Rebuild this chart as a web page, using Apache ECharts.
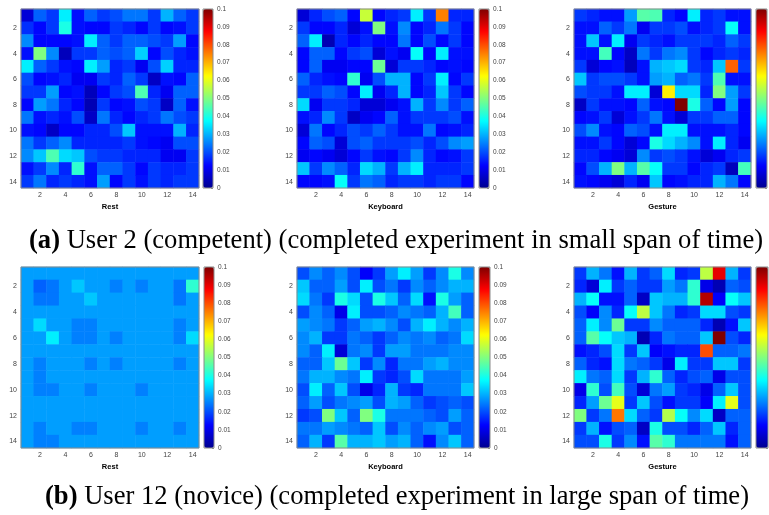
<!DOCTYPE html>
<html>
<head>
    <meta charset="utf-8">
    <title>User heatmaps</title>
    <script src="https://cdn.jsdelivr.net/npm/echarts@6.0.0/dist/echarts.min.js"></script>
    <style>
        body { margin: 0; background: #fff; }
        #chart { width: 769px; height: 515px; }
    </style>
</head>
<body>
    <div id="chart"></div>
    <script>
        // cell labels (1..14) and which of them get a tick label
        var cells = ['1', '2', '3', '4', '5', '6', '7', '8', '9', '10', '11', '12', '13', '14'];
        var panelNames = ['Rest', 'Keyboard', 'Gesture', 'Rest', 'Keyboard', 'Gesture'];
        var captionA = ['(a)', 'User 2 (competent) (completed experiment in small span of time)'];
        var captionB = ['(b)', 'User 12 (novice) (completed experiment in large span of time)'];
        var colorbarMax = 0.1;

        // user 2 - rest
        var restU2 = [
            [0.008, 0.022, 0.018, 0.036, 0.014, 0.022, 0.018, 0.020, 0.024, 0.024, 0.018, 0.030, 0.022, 0.018],
            [0.017, 0.013, 0.018, 0.040, 0.014, 0.013, 0.013, 0.018, 0.016, 0.013, 0.018, 0.013, 0.014, 0.018],
            [0.026, 0.013, 0.013, 0.013, 0.014, 0.036, 0.022, 0.018, 0.022, 0.022, 0.020, 0.018, 0.028, 0.013],
            [0.014, 0.050, 0.026, 0.005, 0.018, 0.018, 0.022, 0.020, 0.022, 0.033, 0.013, 0.020, 0.016, 0.014],
            [0.036, 0.022, 0.018, 0.014, 0.013, 0.036, 0.028, 0.016, 0.018, 0.011, 0.020, 0.033, 0.016, 0.016],
            [0.020, 0.013, 0.014, 0.016, 0.011, 0.011, 0.018, 0.016, 0.022, 0.018, 0.006, 0.014, 0.013, 0.022],
            [0.018, 0.018, 0.028, 0.013, 0.014, 0.005, 0.013, 0.018, 0.020, 0.045, 0.016, 0.011, 0.022, 0.022],
            [0.013, 0.028, 0.024, 0.016, 0.013, 0.004, 0.018, 0.013, 0.014, 0.020, 0.018, 0.006, 0.022, 0.014],
            [0.024, 0.014, 0.016, 0.014, 0.020, 0.006, 0.024, 0.016, 0.013, 0.016, 0.018, 0.024, 0.020, 0.018],
            [0.014, 0.013, 0.006, 0.013, 0.013, 0.016, 0.016, 0.020, 0.032, 0.014, 0.014, 0.014, 0.030, 0.016],
            [0.024, 0.018, 0.022, 0.026, 0.016, 0.016, 0.016, 0.016, 0.018, 0.014, 0.013, 0.011, 0.020, 0.020],
            [0.026, 0.032, 0.045, 0.034, 0.032, 0.020, 0.018, 0.018, 0.016, 0.016, 0.016, 0.011, 0.011, 0.018],
            [0.014, 0.018, 0.026, 0.016, 0.042, 0.014, 0.022, 0.022, 0.018, 0.013, 0.018, 0.016, 0.016, 0.018],
            [0.018, 0.024, 0.016, 0.018, 0.016, 0.014, 0.028, 0.013, 0.018, 0.014, 0.018, 0.016, 0.018, 0.018]
        ];

        // user 2 - keyboard
        var keyboardU2 = [
            [0.008, 0.016, 0.020, 0.022, 0.013, 0.057, 0.013, 0.016, 0.018, 0.036, 0.018, 0.075, 0.016, 0.016],
            [0.018, 0.013, 0.013, 0.016, 0.008, 0.014, 0.050, 0.014, 0.026, 0.013, 0.016, 0.024, 0.018, 0.013],
            [0.022, 0.036, 0.004, 0.016, 0.013, 0.016, 0.013, 0.013, 0.024, 0.013, 0.020, 0.013, 0.018, 0.013],
            [0.013, 0.022, 0.022, 0.013, 0.018, 0.020, 0.008, 0.014, 0.011, 0.038, 0.013, 0.036, 0.014, 0.014],
            [0.013, 0.022, 0.011, 0.011, 0.013, 0.013, 0.048, 0.008, 0.018, 0.018, 0.016, 0.013, 0.014, 0.013],
            [0.022, 0.016, 0.014, 0.013, 0.042, 0.011, 0.020, 0.030, 0.030, 0.013, 0.018, 0.036, 0.013, 0.018],
            [0.018, 0.018, 0.022, 0.020, 0.013, 0.036, 0.011, 0.016, 0.030, 0.013, 0.016, 0.032, 0.018, 0.013],
            [0.034, 0.011, 0.018, 0.018, 0.016, 0.008, 0.008, 0.011, 0.014, 0.030, 0.018, 0.026, 0.018, 0.022],
            [0.014, 0.016, 0.026, 0.018, 0.006, 0.011, 0.013, 0.022, 0.014, 0.018, 0.018, 0.018, 0.020, 0.014],
            [0.008, 0.024, 0.013, 0.016, 0.020, 0.018, 0.022, 0.018, 0.014, 0.014, 0.024, 0.013, 0.014, 0.016],
            [0.013, 0.022, 0.020, 0.008, 0.020, 0.022, 0.018, 0.018, 0.018, 0.020, 0.016, 0.020, 0.026, 0.028],
            [0.011, 0.013, 0.011, 0.008, 0.013, 0.018, 0.014, 0.013, 0.018, 0.026, 0.016, 0.013, 0.014, 0.018],
            [0.032, 0.018, 0.026, 0.022, 0.016, 0.034, 0.030, 0.018, 0.030, 0.036, 0.016, 0.016, 0.016, 0.018],
            [0.013, 0.013, 0.014, 0.038, 0.018, 0.024, 0.022, 0.016, 0.018, 0.018, 0.016, 0.018, 0.018, 0.013]
        ];

        // user 2 - gesture
        var gestureU2 = [
            [0.018, 0.016, 0.014, 0.014, 0.028, 0.046, 0.045, 0.016, 0.013, 0.036, 0.016, 0.018, 0.014, 0.014],
            [0.014, 0.014, 0.022, 0.018, 0.024, 0.011, 0.018, 0.018, 0.020, 0.014, 0.016, 0.018, 0.038, 0.014],
            [0.014, 0.032, 0.014, 0.036, 0.011, 0.018, 0.016, 0.014, 0.018, 0.018, 0.018, 0.016, 0.022, 0.018],
            [0.014, 0.014, 0.044, 0.013, 0.006, 0.024, 0.018, 0.024, 0.026, 0.018, 0.013, 0.016, 0.018, 0.016],
            [0.018, 0.008, 0.013, 0.014, 0.005, 0.014, 0.030, 0.032, 0.034, 0.018, 0.016, 0.032, 0.078, 0.018],
            [0.032, 0.018, 0.020, 0.020, 0.018, 0.014, 0.028, 0.030, 0.022, 0.024, 0.018, 0.045, 0.014, 0.014],
            [0.020, 0.018, 0.018, 0.014, 0.036, 0.036, 0.008, 0.064, 0.034, 0.034, 0.016, 0.050, 0.028, 0.018],
            [0.006, 0.018, 0.014, 0.014, 0.013, 0.022, 0.014, 0.013, 0.100, 0.040, 0.022, 0.013, 0.028, 0.013],
            [0.013, 0.014, 0.018, 0.008, 0.014, 0.018, 0.024, 0.014, 0.008, 0.018, 0.018, 0.022, 0.022, 0.013],
            [0.020, 0.026, 0.014, 0.013, 0.022, 0.020, 0.014, 0.036, 0.036, 0.014, 0.014, 0.014, 0.016, 0.013],
            [0.014, 0.014, 0.018, 0.013, 0.008, 0.013, 0.040, 0.034, 0.030, 0.026, 0.014, 0.036, 0.016, 0.011],
            [0.016, 0.016, 0.013, 0.011, 0.008, 0.026, 0.018, 0.020, 0.018, 0.014, 0.008, 0.011, 0.016, 0.018],
            [0.013, 0.020, 0.030, 0.050, 0.030, 0.046, 0.038, 0.018, 0.018, 0.013, 0.016, 0.018, 0.005, 0.044],
            [0.014, 0.013, 0.011, 0.008, 0.016, 0.011, 0.032, 0.013, 0.014, 0.016, 0.016, 0.030, 0.024, 0.013]
        ];

        // user 12 - rest
        var restU12 = [
            [0.028, 0.028, 0.028, 0.028, 0.028, 0.028, 0.028, 0.028, 0.028, 0.028, 0.028, 0.028, 0.028, 0.028],
            [0.028, 0.022, 0.024, 0.028, 0.032, 0.028, 0.028, 0.025, 0.028, 0.025, 0.028, 0.028, 0.024, 0.042],
            [0.028, 0.024, 0.024, 0.028, 0.028, 0.032, 0.028, 0.028, 0.028, 0.028, 0.028, 0.028, 0.024, 0.028],
            [0.028, 0.028, 0.028, 0.028, 0.028, 0.028, 0.028, 0.028, 0.028, 0.028, 0.028, 0.028, 0.028, 0.028],
            [0.028, 0.034, 0.028, 0.028, 0.025, 0.025, 0.028, 0.028, 0.028, 0.028, 0.028, 0.028, 0.025, 0.028],
            [0.028, 0.028, 0.036, 0.028, 0.025, 0.025, 0.028, 0.025, 0.028, 0.028, 0.028, 0.028, 0.025, 0.034],
            [0.028, 0.028, 0.028, 0.028, 0.028, 0.028, 0.028, 0.028, 0.028, 0.028, 0.028, 0.028, 0.028, 0.028],
            [0.028, 0.025, 0.028, 0.028, 0.028, 0.025, 0.028, 0.025, 0.028, 0.028, 0.028, 0.028, 0.025, 0.028],
            [0.028, 0.025, 0.028, 0.028, 0.028, 0.028, 0.028, 0.028, 0.028, 0.028, 0.028, 0.028, 0.028, 0.028],
            [0.028, 0.025, 0.025, 0.028, 0.028, 0.025, 0.028, 0.028, 0.028, 0.025, 0.028, 0.028, 0.028, 0.028],
            [0.028, 0.028, 0.028, 0.028, 0.028, 0.028, 0.028, 0.028, 0.028, 0.028, 0.028, 0.028, 0.028, 0.028],
            [0.028, 0.028, 0.028, 0.028, 0.028, 0.028, 0.028, 0.028, 0.028, 0.028, 0.028, 0.028, 0.028, 0.028],
            [0.028, 0.025, 0.028, 0.028, 0.025, 0.025, 0.028, 0.028, 0.028, 0.025, 0.028, 0.028, 0.025, 0.028],
            [0.028, 0.025, 0.025, 0.028, 0.028, 0.028, 0.028, 0.028, 0.028, 0.028, 0.028, 0.028, 0.028, 0.028]
        ];

        // user 12 - keyboard
        var keyboardU12 = [
            [0.020, 0.026, 0.022, 0.026, 0.020, 0.012, 0.018, 0.028, 0.036, 0.028, 0.018, 0.026, 0.040, 0.026],
            [0.032, 0.022, 0.022, 0.028, 0.020, 0.036, 0.020, 0.024, 0.018, 0.026, 0.022, 0.026, 0.030, 0.030],
            [0.034, 0.024, 0.018, 0.040, 0.034, 0.020, 0.040, 0.032, 0.022, 0.034, 0.014, 0.040, 0.028, 0.022],
            [0.020, 0.026, 0.022, 0.010, 0.036, 0.020, 0.020, 0.022, 0.026, 0.024, 0.022, 0.030, 0.044, 0.022],
            [0.028, 0.026, 0.024, 0.018, 0.022, 0.028, 0.030, 0.026, 0.020, 0.030, 0.036, 0.030, 0.026, 0.030],
            [0.026, 0.030, 0.018, 0.018, 0.024, 0.022, 0.018, 0.022, 0.026, 0.024, 0.026, 0.022, 0.024, 0.034],
            [0.026, 0.022, 0.036, 0.008, 0.024, 0.026, 0.018, 0.028, 0.028, 0.024, 0.024, 0.024, 0.026, 0.026],
            [0.022, 0.022, 0.032, 0.048, 0.032, 0.018, 0.026, 0.016, 0.024, 0.024, 0.028, 0.030, 0.026, 0.026],
            [0.024, 0.030, 0.030, 0.026, 0.024, 0.036, 0.018, 0.016, 0.020, 0.034, 0.024, 0.024, 0.024, 0.028],
            [0.020, 0.036, 0.022, 0.032, 0.020, 0.010, 0.016, 0.030, 0.018, 0.016, 0.024, 0.024, 0.024, 0.032],
            [0.022, 0.028, 0.020, 0.024, 0.026, 0.028, 0.020, 0.030, 0.028, 0.022, 0.018, 0.020, 0.022, 0.020],
            [0.018, 0.020, 0.050, 0.032, 0.022, 0.050, 0.040, 0.024, 0.024, 0.024, 0.022, 0.020, 0.028, 0.022],
            [0.024, 0.024, 0.028, 0.026, 0.024, 0.022, 0.032, 0.020, 0.026, 0.022, 0.026, 0.028, 0.020, 0.022],
            [0.022, 0.030, 0.018, 0.046, 0.030, 0.030, 0.032, 0.028, 0.030, 0.022, 0.014, 0.026, 0.032, 0.022]
        ];

        // user 12 - gesture
        var gestureU12 = [
            [0.018, 0.030, 0.024, 0.014, 0.030, 0.018, 0.022, 0.034, 0.016, 0.018, 0.056, 0.090, 0.030, 0.018],
            [0.016, 0.008, 0.036, 0.018, 0.022, 0.018, 0.018, 0.028, 0.024, 0.042, 0.010, 0.004, 0.022, 0.020],
            [0.030, 0.038, 0.014, 0.014, 0.022, 0.006, 0.032, 0.030, 0.030, 0.042, 0.095, 0.012, 0.038, 0.032],
            [0.020, 0.012, 0.026, 0.016, 0.038, 0.056, 0.032, 0.024, 0.016, 0.018, 0.034, 0.034, 0.020, 0.018],
            [0.022, 0.036, 0.026, 0.048, 0.018, 0.018, 0.026, 0.022, 0.022, 0.022, 0.016, 0.004, 0.014, 0.032],
            [0.022, 0.046, 0.038, 0.032, 0.030, 0.004, 0.016, 0.024, 0.022, 0.022, 0.032, 0.100, 0.020, 0.016],
            [0.014, 0.016, 0.020, 0.034, 0.018, 0.032, 0.012, 0.014, 0.016, 0.016, 0.080, 0.022, 0.022, 0.024],
            [0.022, 0.016, 0.014, 0.034, 0.024, 0.022, 0.018, 0.010, 0.036, 0.018, 0.018, 0.032, 0.032, 0.018],
            [0.036, 0.024, 0.022, 0.034, 0.018, 0.030, 0.042, 0.022, 0.016, 0.020, 0.022, 0.010, 0.020, 0.020],
            [0.010, 0.042, 0.020, 0.044, 0.020, 0.008, 0.024, 0.028, 0.018, 0.016, 0.010, 0.022, 0.032, 0.020],
            [0.016, 0.028, 0.048, 0.060, 0.018, 0.032, 0.020, 0.014, 0.018, 0.018, 0.012, 0.036, 0.060, 0.020],
            [0.050, 0.018, 0.024, 0.076, 0.034, 0.022, 0.018, 0.055, 0.038, 0.026, 0.034, 0.006, 0.022, 0.022],
            [0.018, 0.030, 0.014, 0.020, 0.022, 0.006, 0.040, 0.020, 0.020, 0.016, 0.022, 0.032, 0.016, 0.022],
            [0.020, 0.020, 0.040, 0.018, 0.026, 0.014, 0.046, 0.042, 0.024, 0.024, 0.024, 0.024, 0.014, 0.022]
        ];

        var matrices = [restU2, keyboardU2, gestureU2, restU12, keyboardU12, gestureU12];

        // jet colormap
        var jet = ['#000090', '#0000ff', '#0080ff', '#00ffff', '#80ff80', '#ffff00', '#ff8000', '#ff0000', '#800000'];

        // layout of the six panels: [left, top, width, height, colorbarLeft, colorbarWidth]
        var boxes = [
            [21, 9, 178, 179, 203, 10],
            [297, 9, 177, 179, 479, 10],
            [574, 9, 177, 179, 756, 11],
            [21, 267, 178, 181, 204, 10],
            [297, 267, 177, 181, 479, 11],
            [574, 267, 177, 181, 756, 12]
        ];

        var chart = echarts.init(document.getElementById('chart'), null, { renderer: 'canvas' });

        function even(idx) { return idx % 2 === 1; }

        var grid = [], xAxis = [], yAxis = [], series = [], visualMap = [];
        boxes.forEach(function (b, i) {
            // heatmap grid
            grid.push({ left: b[0], top: b[1], width: b[2], height: b[3], show: true, borderColor: '#8a8a8a', borderWidth: 1, backgroundColor: 'transparent', z: 5 });
            // colorbar grid
            grid.push({ left: b[4], top: b[1], width: b[5], height: b[3], show: true, borderColor: '#8a8a8a', borderWidth: 1, backgroundColor: 'transparent', z: 5 });

            var lab = { interval: even, fontSize: 7, color: '#444', margin: 4, fontFamily: 'Liberation Sans' };
            var tick = { show: true, inside: true, interval: even, alignWithLabel: true, length: 2, lineStyle: { color: '#777', width: 0.8 } };
            xAxis.push({
                type: 'category', gridIndex: 2 * i, data: cells, axisLabel: lab, axisTick: tick,
                axisLine: { show: false }, splitLine: { show: false },
                name: panelNames[i], nameLocation: 'middle', nameGap: 15,
                nameTextStyle: { fontWeight: 'bold', fontSize: 7.5, color: '#000', fontFamily: 'Liberation Sans' }
            });
            yAxis.push({
                type: 'category', gridIndex: 2 * i, data: cells, inverse: true,
                axisLabel: lab, axisTick: tick, axisLine: { show: false }, splitLine: { show: false }
            });
            xAxis.push({ type: 'category', gridIndex: 2 * i + 1, data: [''], show: false });
            yAxis.push({
                type: 'value', gridIndex: 2 * i + 1, position: 'right', min: 0, max: colorbarMax, interval: 0.01,
                axisLine: { show: false }, splitLine: { show: false },
                axisTick: { show: true, inside: true, length: 2, lineStyle: { color: '#777', width: 0.8 } },
                axisLabel: {
                    show: i % 3 !== 2, fontSize: 6.5, color: '#444', margin: 4, fontFamily: 'Liberation Sans',
                    formatter: function (v) { return String(parseFloat(v.toFixed(2))); }
                }
            });

            var data = [];
            matrices[i].forEach(function (row, r) {
                row.forEach(function (v, c) { data.push([c, r, v]); });
            });
            series.push({
                type: 'heatmap', xAxisIndex: 2 * i, yAxisIndex: 2 * i, data: data,
                itemStyle: { borderWidth: 0 }, emphasis: { disabled: true }, progressive: 0
            });
            visualMap.push({
                type: 'continuous', seriesIndex: i, min: 0, max: colorbarMax,
                inRange: { color: jet }, left: b[4], top: b[1], itemWidth: b[5], itemHeight: b[3],
                padding: 0, calculable: false, text: null, hoverLink: false, show: true
            });
        });

        var capStyle = {
            fontFamily: 'Liberation Serif', fontSize: 26.6, color: '#000', fontWeight: 'normal',
            rich: { b: { fontFamily: 'Liberation Serif', fontSize: 26.6, fontWeight: 'bold', color: '#000' } }
        };

        var option = {
            animation: false,
            backgroundColor: '#fff',
            title: [
                { text: '{b|' + captionA[0] + '} ' + captionA[1], left: 29, top: 228, padding: 0, textStyle: capStyle },
                { text: '{b|' + captionB[0] + '} ' + captionB[1], left: 45, top: 484, padding: 0, textStyle: capStyle }
            ],
            grid: grid,
            xAxis: xAxis,
            yAxis: yAxis,
            visualMap: visualMap,
            series: series
        };

        chart.setOption(option);
    </script>
</body>
</html>
